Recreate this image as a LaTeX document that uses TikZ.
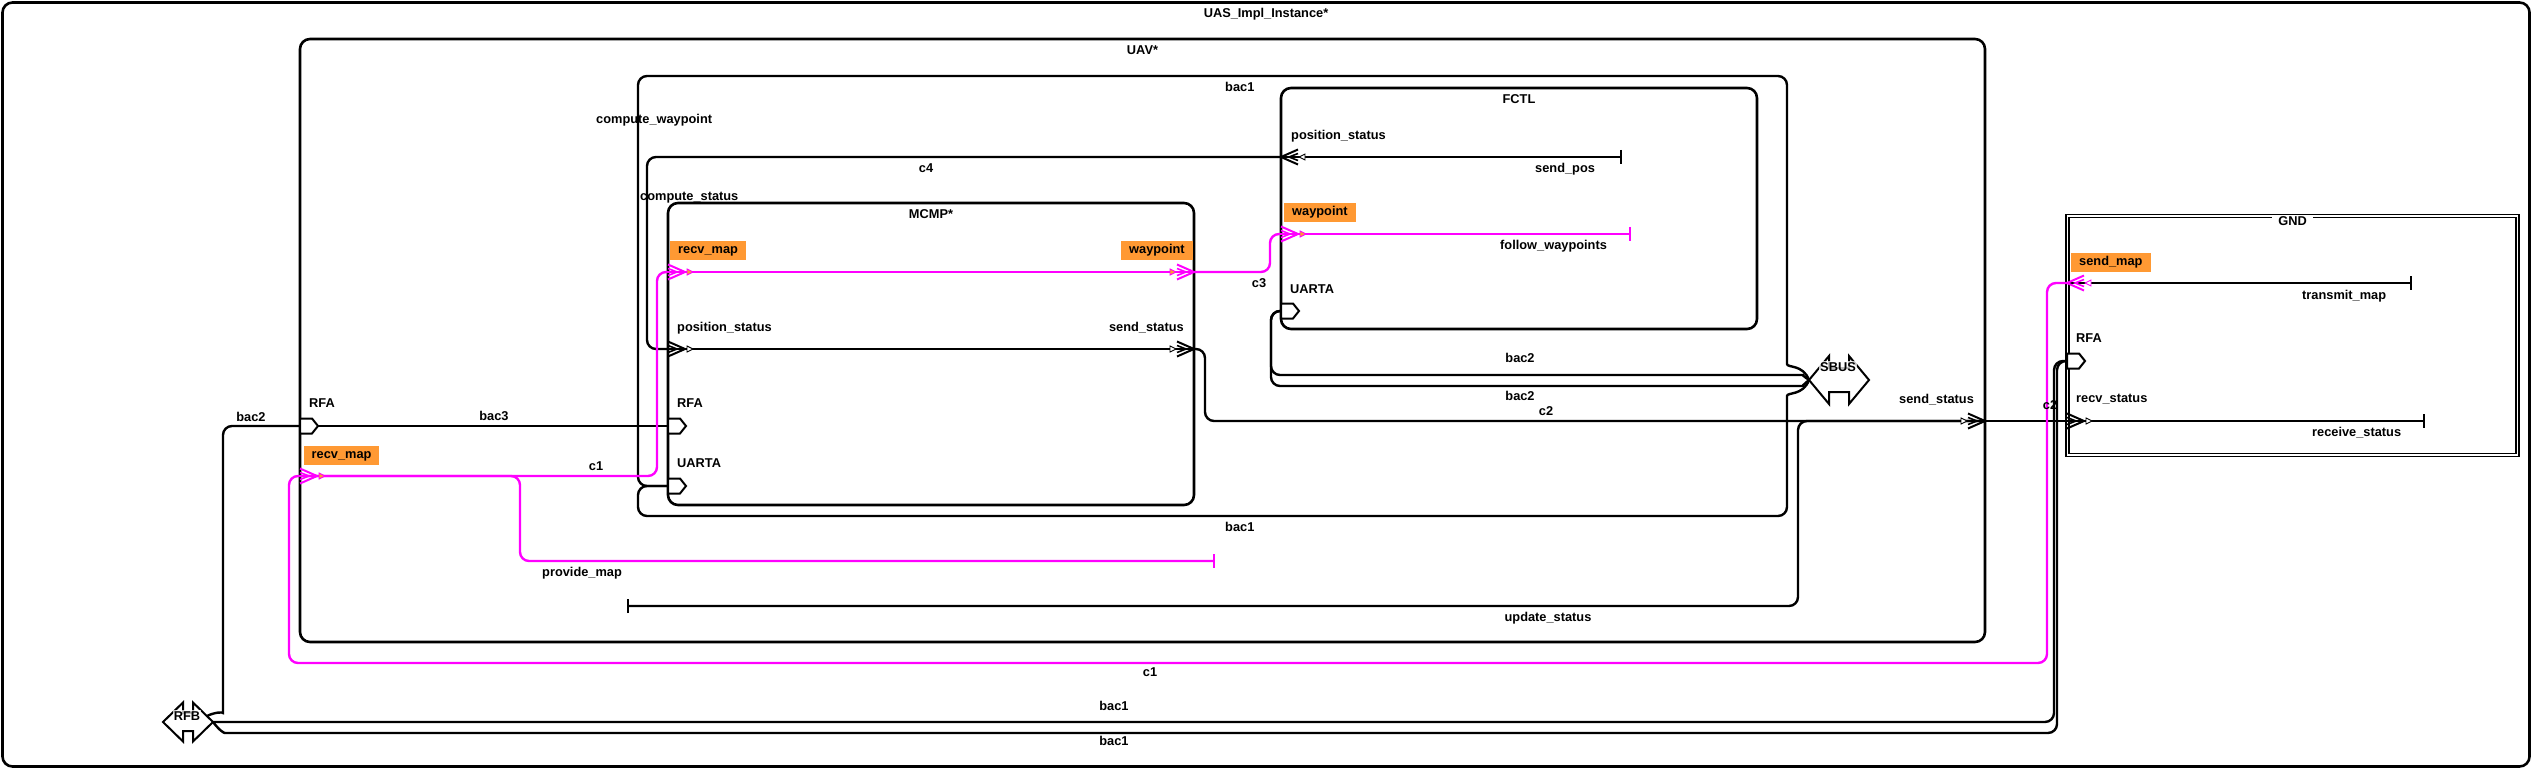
\documentclass[tikz,border=0pt]{standalone}
\usepackage{fontspec}
\setmainfont{Liberation Sans}
\usetikzlibrary{arrows.meta}

\definecolor{flowpink}{RGB}{255,0,255}
\definecolor{tagorange}{RGB}{255,153,51}
\newcommand{\lblfont}{\fontsize{12.8pt}{15pt}\selectfont\bfseries}
\newcommand{\bussym}[5]{% centre, tip, neck, head, shaft
  \begin{scope}[shift={(#1)}]
    \draw[busedge] (-#2,0) -- (-#3,-#4) -- (-#3,-#5) -- (#3,-#5) -- (#3,-#4) -- (#2,0)
      -- (#3,#4) -- (#3,#5) -- (-#3,#5) -- (-#3,#4) -- cycle;
  \end{scope}}

\begin{document}
\begin{tikzpicture}[
x=1pt, y=-1pt,
comp/.style n args={2}{draw, rounded corners=10pt, line width=2.6pt, inner sep=0pt, minimum width=#1, minimum height=#2},
title/.style={font=\lblfont, inner sep=0pt, text height=9pt, text depth=0pt},
lbl/.style={title},
tag/.style={font=\lblfont, fill=tagorange, inner xsep=8pt, inner ysep=3.5pt, text height=9pt, text depth=3pt, anchor=north west},
conn/.style={line width=2.4pt, rounded corners=9pt},
hl/.style={conn, draw=flowpink},
flowend/.style={-{Bar[width=14pt]}},
busedge/.style={line width=2pt, fill=white, line join=miter},
buslabel/.style={title, fill=white, fill opacity=0.75, text opacity=1, inner xsep=1pt, inner ysep=2pt},
porttri/.style={fill=white},
inport/.pic={
  \draw[line width=2pt] (0,-7.5) -- (17,0) -- (0,7.5);
  \draw[line width=1.6pt] (0,-3.5) -- (9,0) -- (0,3.5);
  \draw[line width=0.9pt, porttri] (19,-3) -- (25,0) -- (19,3) -- cycle;
},
outport/.pic={
  \draw[line width=0.9pt, porttri] (-24,-3) -- (-18,0) -- (-24,3) -- cycle;
  \draw[line width=2pt] (-17,-7.5) -- (0,0) -- (-17,7.5);
  \draw[line width=1.6pt] (-17,-3.5) -- (-8,0) -- (-17,3.5);
},
busport/.pic={
  \draw[line width=2pt, fill=white] (0,-7.5) -- (12,-7.5) -- (18,0) -- (12,7.5) -- (0,7.5) -- cycle;
}
]
\useasboundingbox (0,0) rectangle (2532,770);

\node[comp={2527pt}{764pt}] (uas) at (1266,384.5) {};
\node[comp={1685pt}{603pt}] (uav) at (1142.5,340.5) {};
\node[comp={476pt}{241pt}] (fctl) at (1519,208.5) {};
\node[comp={526pt}{302pt}] (mcmp) at (931,354) {};
\node[draw, double, double distance=1.6pt, line width=1.5pt, inner sep=0pt, minimum width=450pt, minimum height=239pt] (gnd) at (2292.5,335.5) {};

\node[title] (uas-t) at ([yshift=-12pt]uas.north) {UAS\_Impl\_Instance*};
\node[title] (uav-t) at ([yshift=-12pt]uav.north) {UAV*};
\node[title] (fctl-t) at ([yshift=-12pt]fctl.north) {FCTL};
\node[title] (mcmp-t) at ([yshift=-12pt]mcmp.north) {MCMP*};
\node[title, fill=white, text depth=4pt, inner xsep=6pt, anchor=north] (gnd-t) at ([yshift=-1pt]gnd.north) {GND};

\coordinate (uav-rfa) at (300,426);
\coordinate (uav-recv) at (300,476);
\coordinate (uav-send) at (1985,421);
\coordinate (mcmp-recv) at (668,272);
\coordinate (mcmp-wp) at (1194,272);
\coordinate (mcmp-pos) at (668,349);
\coordinate (mcmp-send) at (1194,349);
\coordinate (mcmp-rfa) at (668,426);
\coordinate (mcmp-uarta) at (668,486);
\coordinate (fctl-pos) at (1281,157);
\coordinate (fctl-wp) at (1281,234);
\coordinate (fctl-uarta) at (1281,311);
\coordinate (gnd-send) at (2067,283);
\coordinate (gnd-rfa) at (2067,361);
\coordinate (gnd-recv) at (2067,421);
\coordinate (sbus-c) at (1839,380);
\coordinate (sbus-w) at (1809,380);
\coordinate (rfb-c) at (188,722);
\coordinate (rfb-e) at (213,722);
\coordinate (rfb-n) at (207,716);
\coordinate (send-pos) at (1622,157);
\coordinate (follow-wp) at (1631,234);
\coordinate (transmit-map) at (2412,283);
\coordinate (receive-status) at (2425,421);
\coordinate (provide-map) at (1215,561);
\coordinate (update-status) at (627,606);

% bus access connections
\draw[conn] (uav-rfa) -- (mcmp-rfa);
\draw[conn] (uav-rfa) -- (223,426) -- (223,704) .. controls (223,712) and (215,712) .. (rfb-n);
\draw[conn] (mcmp-uarta) -- (638,486) -- (638,76) -- (1787,76) -- (1787,355) .. controls (1787,368) and (1803,364) .. (sbus-w);
\draw[conn] (mcmp-uarta) -- (638,486) -- (638,516) -- (1787,516) -- (1787,405) .. controls (1787,392) and (1803,396) .. (sbus-w);
\draw[conn] (fctl-uarta) -- (1271,311) -- (1271,375) -- (1795,375) .. controls (1802,375) .. (sbus-w);
\draw[conn] (fctl-uarta) -- (1271,311) -- (1271,386) -- (1795,386) .. controls (1802,386) .. (sbus-w);
\draw[conn] (rfb-e) -- (2054,722) -- (2054,361) -- (gnd-rfa);
\draw[conn] (rfb-e) .. controls (220,731) and (224,733) .. (234,733) -- (2057,733) -- (2057,361) -- (gnd-rfa);

% port connections and flows
\draw[conn] (fctl-pos) -- (647,157) -- (647,349) -- (mcmp-pos);
\draw[conn, flowend] (fctl-pos) -- (send-pos);
\draw[conn] (mcmp-pos) -- (mcmp-send);
\draw[conn] (mcmp-send) -- (1205,349) -- (1205,421) -- (uav-send);
\draw[conn] (uav-send) -- (gnd-recv);
\draw[conn, flowend] (gnd-recv) -- (receive-status);
\draw[conn, flowend] (gnd-send) -- (transmit-map);
\draw[conn, {Bar[width=14pt]}-] (update-status) -- (1798,606) -- (1798,421) -- (uav-send);

\draw[hl] (gnd-send) -- (2047,283) -- (2047,663) -- (289,663) -- (289,476) -- (uav-recv);
\draw[hl] (uav-recv) -- (657,476) -- (657,272) -- (mcmp-recv);
\draw[hl, flowend] (uav-recv) -- (520,476) -- (520,561) -- (provide-map);
\draw[hl] (mcmp-recv) -- (mcmp-wp);
\draw[hl] (mcmp-wp) -- (1270,272) -- (1270,234) -- (fctl-wp);
\draw[hl, flowend] (fctl-wp) -- (follow-wp);

% ports
\pic at (uav-rfa) {busport};
\pic at (mcmp-rfa) {busport};
\pic at (mcmp-uarta) {busport};
\pic at (fctl-uarta) {busport};
\pic at (gnd-rfa) {busport};
\pic[flowpink, porttri/.style={fill=tagorange}] at (uav-recv) {inport};
\pic[flowpink, porttri/.style={fill=tagorange}] at (mcmp-recv) {inport};
\pic[flowpink, porttri/.style={fill=tagorange}] at (mcmp-wp) {outport};
\pic[flowpink, porttri/.style={fill=tagorange}] at (fctl-wp) {inport};
\pic[flowpink, xscale=-1] at (gnd-send) {outport};
\pic at (mcmp-pos) {inport};
\pic at (mcmp-send) {outport};
\pic at (uav-send) {outport};
\pic at (gnd-recv) {inport};
\pic[xscale=-1] at (fctl-pos) {outport};

\bussym{sbus-c}{30}{10}{24}{12}
\bussym{rfb-c}{25}{5}{19.5}{9}
\node[buslabel] (sbus) at (1838,367) {SBUS};
\node[buslabel] (rfb) at (187,716) {RFB};

% port tags
\node[tag] (t-uav-recv) at (303.5,446) {recv\_map};
\node[tag] (t-mcmp-recv) at (670,241) {recv\_map};
\node[tag] (t-mcmp-wp) at (1121,241) {waypoint};
\node[tag] (t-fctl-wp) at (1284,203) {waypoint};
\node[tag] (t-gnd-send) at (2071,253) {send\_map};

% labels
\node[lbl, anchor=west] (l-cw) at (596,119) {compute\_waypoint};
\node[lbl, anchor=west] (l-cs) at (640,196) {compute\_status};
\node[lbl, anchor=west] (l-bac1a) at (1225,87) {bac1};
\node[lbl] (l-c4) at (926,168) {c4};
\node[lbl, anchor=west] (l-fpos) at (1291,135) {position\_status};
\node[lbl, anchor=west] (l-spos) at (1535,168) {send\_pos};
\node[lbl, anchor=west] (l-fwp) at (1500,245) {follow\_waypoints};
\node[lbl] (l-c3) at (1259,283) {c3};
\node[lbl, anchor=west] (l-fuarta) at (1290,289) {UARTA};
\node[lbl, anchor=west] (l-mpos) at (677,327) {position\_status};
\node[lbl, anchor=east] (l-msend) at (1184,327) {send\_status};
\node[lbl, anchor=west] (l-mrfa) at (677,403) {RFA};
\node[lbl, anchor=west] (l-muarta) at (677,463) {UARTA};
\node[lbl, anchor=west] (l-urfa) at (309,403) {RFA};
\node[lbl] (l-bac3) at (494,416) {bac3};
\node[lbl] (l-bac2a) at (251,417) {bac2};
\node[lbl] (l-c1a) at (596,466) {c1};
\node[lbl, anchor=west] (l-pmap) at (542,572) {provide\_map};
\node[lbl, anchor=west] (l-bac1b) at (1225,527) {bac1};
\node[lbl] (l-bac2b) at (1520,358) {bac2};
\node[lbl] (l-bac2c) at (1520,396) {bac2};
\node[lbl] (l-c2a) at (1546,411) {c2};
\node[lbl, anchor=west] (l-usend) at (1899,399) {send\_status};
\node[lbl] (l-c2b) at (2050,405) {c2};
\node[lbl, anchor=west] (l-grfa) at (2076,338) {RFA};
\node[lbl, anchor=west] (l-grecv) at (2076,398) {recv\_status};
\node[lbl, anchor=west] (l-tmap) at (2302,295) {transmit\_map};
\node[lbl, anchor=west] (l-rstat) at (2312,432) {receive\_status};
\node[lbl] (l-upd) at (1548,617) {update\_status};
\node[lbl] (l-c1b) at (1150,672) {c1};
\node[lbl] (l-bac1c) at (1114,706) {bac1};
\node[lbl] (l-bac1d) at (1114,741) {bac1};

\end{tikzpicture}
\end{document}
